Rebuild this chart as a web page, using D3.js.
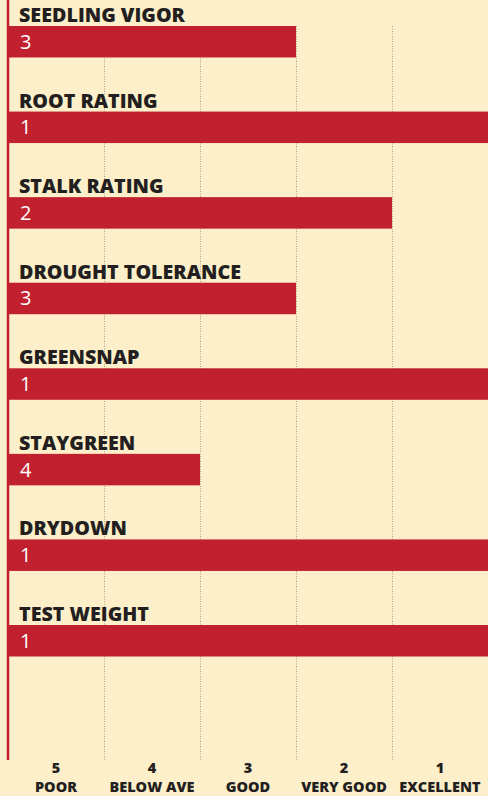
<!DOCTYPE html>
<html>
<head>
<meta charset="utf-8">
<script src="https://cdn.jsdelivr.net/npm/d3@7"></script>
<style>
  html, body { margin: 0; padding: 0; background: #fdefca; }
  svg { display: block; }
</style>
</head>
<body>
<svg></svg>
<script>
// chart data
const traits = ['SEEDLING VIGOR', 'ROOT RATING', 'STALK RATING', 'DROUGHT TOLERANCE',
  'GREENSNAP', 'STAYGREEN', 'DRYDOWN', 'TEST WEIGHT']
const ratings = [3, 1, 2, 3, 1, 4, 1, 1]
const ratingLevels = [5, 4, 3, 2, 1]
const ratingNames = ['POOR', 'BELOW AVE', 'GOOD', 'VERY GOOD', 'EXCELLENT']

// canvas sizes
const width = 488
const height = 796
const left = 8
const right = 488
const axisBottom = 760

const red = '#c1202f'
const ink = '#231f20'

const svg = d3.select('svg')
  .attr('width', width)
  .attr('height', height)

// 1 = excellent is the longest bar, so domain runs backwards
const xScale = d3.scaleLinear()
  .domain([6, 1])
  .range([left, right])

const yScale = d3.scaleBand()
  .domain(traits)
  .range([26, 656.5])
  .paddingInner(0.632)
  .paddingOuter(0)

// band scale just for placing the category labels under each column
const labelScale = d3.scaleBand()
  .domain(ratingLevels)
  .range([left, right])

// dotted grid lines between columns
svg.append('g')
  .selectAll('line')
  .data(ratingLevels.slice(0, 4))
  .enter()
  .append('line')
  .attr('x1', (d) => xScale(d) + 0.5)
  .attr('x2', (d) => xScale(d) + 0.5)
  .attr('y1', 26)
  .attr('y2', axisBottom)
  .attr('stroke', '#a69d8e')
  .attr('stroke-width', 1)
  .attr('stroke-dasharray', '1,1.5')

// bars
const rows = svg.append('g')
  .selectAll('g')
  .data(traits)
  .enter()
  .append('g')

rows.append('rect')
  .attr('x', xScale(6))
  .attr('y', (d) => yScale(d))
  .attr('width', (d, i) => xScale(ratings[i]) - xScale(6))
  .attr('height', yScale.bandwidth())
  .attr('fill', red)

rows.append('text')
  .attr('x', 19)
  .attr('y', (d) => yScale(d) - 4)
  .attr('font-family', 'Open Sans, sans-serif')
  .attr('font-weight', 800)
  .attr('font-size', 19.7)
  .attr('fill', ink)
  .text((d) => d)

rows.append('text')
  .attr('x', 20)
  .attr('y', (d) => yScale(d) + yScale.bandwidth() / 2 + 7)
  .attr('font-family', 'Open Sans, sans-serif')
  .attr('font-size', 20)
  .attr('fill', '#fff')
  .text((d, i) => ratings[i])

// red left axis
svg.append('line')
  .attr('x1', left)
  .attr('x2', left)
  .attr('y1', 0)
  .attr('y2', axisBottom)
  .attr('stroke', red)
  .attr('stroke-width', 2.5)

// bottom axis: number on top, rating name under it
const xAxis = d3.axisBottom(labelScale)
  .tickSize(0)
  .tickPadding(0)

const axisG = svg.append('g')
  .attr('transform', 'translate(0,' + axisBottom + ')')
  .call(xAxis)

axisG.select('.domain').remove()
axisG.selectAll('.tick text')
  .attr('y', 13)
  .attr('dy', 0)
  .attr('font-family', 'Open Sans, sans-serif')
  .attr('font-weight', 800)
  .attr('font-size', 14.5)
  .attr('fill', ink)

axisG.selectAll('.tick')
  .append('text')
  .attr('y', 32)
  .attr('text-anchor', 'middle')
  .attr('font-family', 'Open Sans, sans-serif')
  .attr('font-weight', 800)
  .attr('font-size', 14.5)
  .attr('fill', ink)
  .text((d, i) => ratingNames[i])
</script>
</body>
</html>
